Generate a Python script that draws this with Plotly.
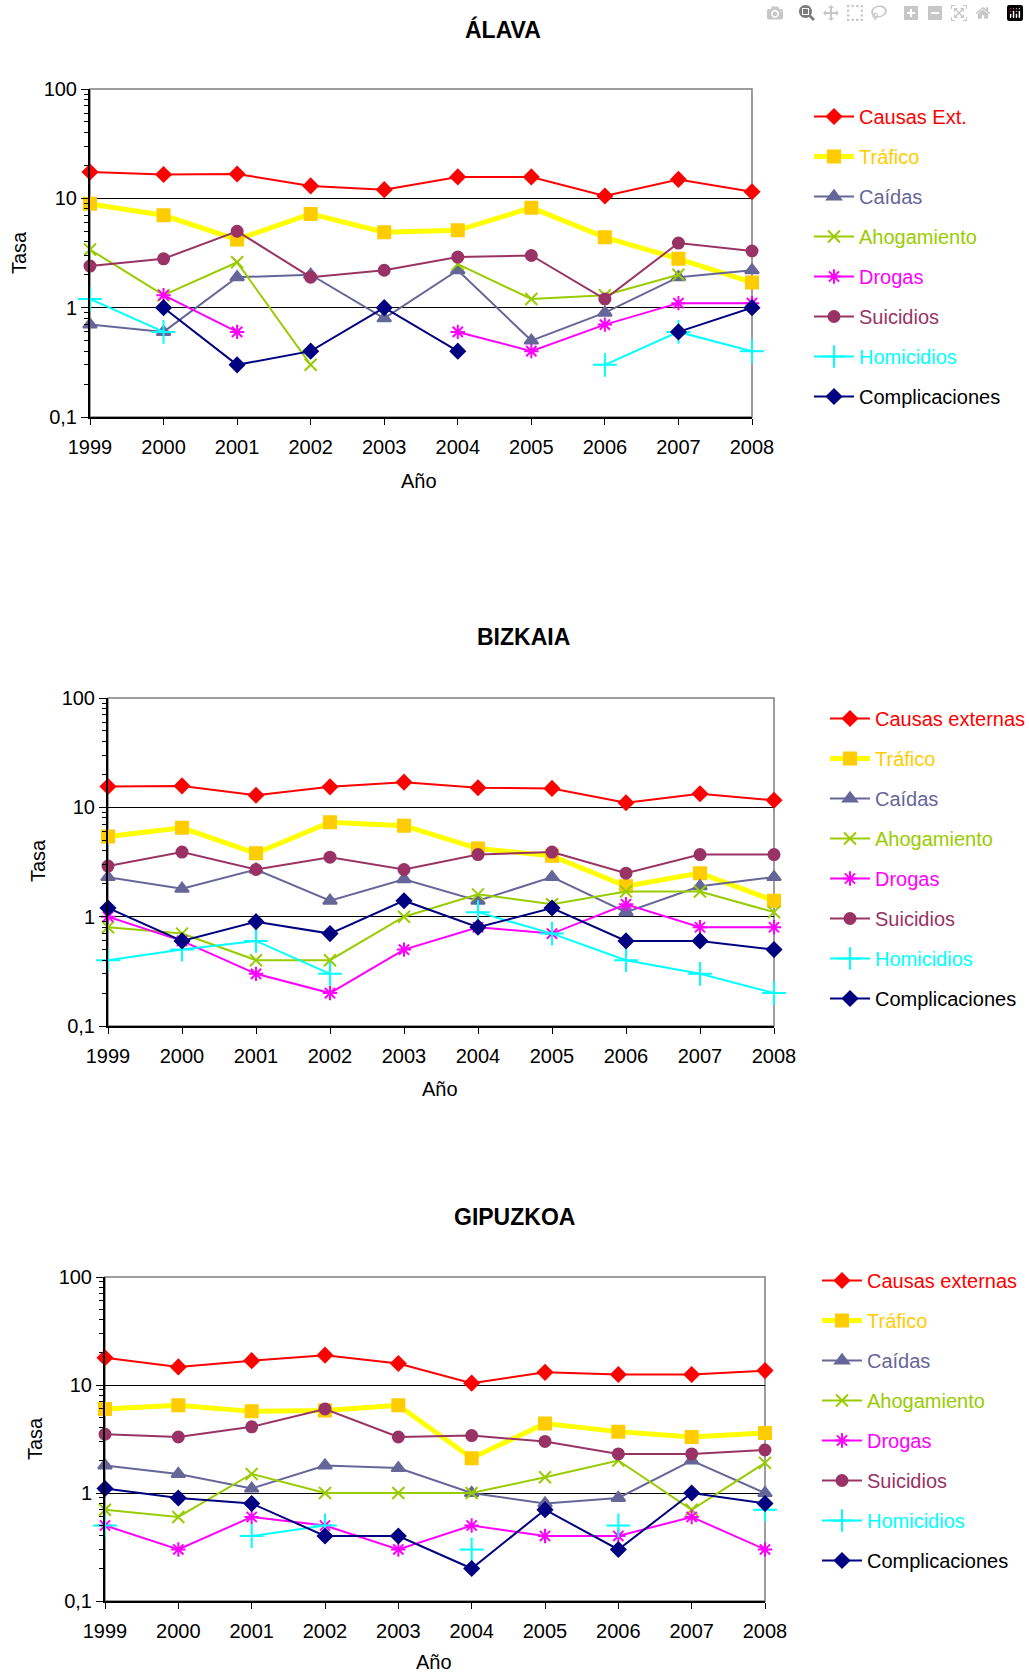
import plotly.graph_objects as go

W, H = 1029, 1673

YEARS = [1999, 2000, 2001, 2002, 2003, 2004, 2005, 2006, 2007, 2008]
Y_TICKS = [0.1, 1, 10, 100]
Y_TICKTEXT = ["0,1", "1", "10", "100"]

# ÁLAVA
ALAVA_CAUSAS = [17.4, 16.5, 16.7, 13.0, 12.0, 15.7, 15.7, 10.5, 14.9, 11.5]
ALAVA_TRAFICO = [8.9, 7.0, 4.2, 7.2, 4.9, 5.1, 8.2, 4.4, 2.8, 1.7]
ALAVA_CAIDAS = [0.7, 0.6, 1.9, 2.0, 0.8, 2.2, 0.5, 0.9, 1.9, 2.2]
ALAVA_AHOGAMIENTO = [3.4, 1.3, 2.6, 0.3, None, 2.5, 1.2, 1.3, 2.0, None]
ALAVA_DROGAS = [None, 1.3, 0.6, None, None, 0.6, 0.4, 0.7, 1.1, 1.1]
ALAVA_SUICIDIOS = [2.4, 2.8, 5.0, 1.9, 2.2, 2.9, 3.0, 1.2, 3.9, 3.3]
ALAVA_HOMICIDIOS = [1.2, 0.6, None, None, None, None, None, 0.3, 0.6, 0.4]
ALAVA_COMPLICACIONES = [None, 1.0, 0.3, 0.4, 1.0, 0.4, None, None, 0.6, 1.0]

# BIZKAIA
BIZKAIA_CAUSAS = [15.5, 15.7, 12.9, 15.4, 17.0, 15.1, 14.9, 11.0, 13.3, 11.6]
BIZKAIA_TRAFICO = [5.4, 6.5, 3.8, 7.3, 6.8, 4.2, 3.6, 1.9, 2.5, 1.4]
BIZKAIA_CAIDAS = [2.3, 1.8, 2.7, 1.4, 2.2, 1.4, 2.3, 1.1, 1.9, 2.3]
BIZKAIA_AHOGAMIENTO = [0.8, 0.7, 0.4, 0.4, 1.0, 1.6, 1.3, 1.7, 1.7, 1.1]
BIZKAIA_DROGAS = [1.0, 0.6, 0.3, 0.2, 0.5, 0.8, 0.7, 1.3, 0.8, 0.8]
BIZKAIA_SUICIDIOS = [2.9, 3.9, 2.7, 3.5, 2.7, 3.7, 3.9, 2.5, 3.7, 3.7]
BIZKAIA_HOMICIDIOS = [0.4, 0.5, 0.6, 0.3, None, 1.1, 0.7, 0.4, 0.3, 0.2]
BIZKAIA_COMPLICACIONES = [1.2, 0.6, 0.9, 0.7, 1.4, 0.8, 1.2, 0.6, 0.6, 0.5]

# GIPUZKOA
GIPUZKOA_CAUSAS = [17.9, 14.7, 16.8, 18.9, 15.8, 10.4, 13.1, 12.5, 12.5, 13.6]
GIPUZKOA_TRAFICO = [6.0, 6.5, 5.7, 5.8, 6.5, 2.1, 4.4, 3.7, 3.3, 3.6]
GIPUZKOA_CAIDAS = [1.8, 1.5, 1.1, 1.8, 1.7, 1.0, 0.8, 0.9, 2.0, 1.0]
GIPUZKOA_AHOGAMIENTO = [0.7, 0.6, 1.5, 1.0, 1.0, 1.0, 1.4, 2.0, 0.7, 1.9]
GIPUZKOA_DROGAS = [0.5, 0.3, 0.6, 0.5, 0.3, 0.5, 0.4, 0.4, 0.6, 0.3]
GIPUZKOA_SUICIDIOS = [3.5, 3.3, 4.1, 6.0, 3.3, 3.4, 3.0, 2.3, 2.3, 2.5]
GIPUZKOA_HOMICIDIOS = [0.5, None, 0.4, 0.5, None, 0.3, None, 0.5, None, 0.7]
GIPUZKOA_COMPLICACIONES = [1.1, 0.9, 0.8, 0.4, 0.4, 0.2, 0.7, 0.3, 1.0, 0.8]

FONT = "Liberation Sans, Arial, sans-serif"

# (line colour, line width, marker symbol, marker colour, marker size, text colour)
STYLES = [
    ("#FF0000", 2, "diamond", "#FF0000", 11, "#FF0000"),
    ("#FFFF00", 5, "square", "#FFCC00", 12, "#FFCC00"),
    ("#666699", 2, "triangle-up", "#666699", 12, "#666699"),
    ("#99CC00", 2, "x-thin-open", "#99CC00", 12, "#99CC00"),
    ("#FF00FF", 2, "asterisk-open", "#FF00FF", 12, "#FF00FF"),
    ("#993366", 2, "circle", "#993366", 11, "#993366"),
    ("#00FFFF", 2, "cross-thin-open", "#00FFFF", 17, "#00FFFF"),
    ("#000080", 2, "diamond", "#000080", 11, "#000000"),
]

PANELS = [
    dict(
        title="ÁLAVA",
        names=["Causas Ext.", "Tráfico", "Caídas", "Ahogamiento", "Drogas",
               "Suicidios", "Homicidios", "Complicaciones"],
        series=[ALAVA_CAUSAS, ALAVA_TRAFICO, ALAVA_CAIDAS, ALAVA_AHOGAMIENTO,
                ALAVA_DROGAS, ALAVA_SUICIDIOS, ALAVA_HOMICIDIOS, ALAVA_COMPLICACIONES],
        box=(90, 752, 89, 417), title_xy=(503, 29), tasa_xy=(19, 253),
        ano_xy=(419, 481), legend_xy=(809, 97),
    ),
    dict(
        title="BIZKAIA",
        names=["Causas externas", "Tráfico", "Caídas", "Ahogamiento", "Drogas",
               "Suicidios", "Homicidios", "Complicaciones"],
        series=[BIZKAIA_CAUSAS, BIZKAIA_TRAFICO, BIZKAIA_CAIDAS, BIZKAIA_AHOGAMIENTO,
                BIZKAIA_DROGAS, BIZKAIA_SUICIDIOS, BIZKAIA_HOMICIDIOS, BIZKAIA_COMPLICACIONES],
        box=(108, 774, 698, 1026), title_xy=(523, 637), tasa_xy=(38, 861),
        ano_xy=(440, 1089), legend_xy=(825, 699),
    ),
    dict(
        title="GIPUZKOA",
        names=["Causas externas", "Tráfico", "Caídas", "Ahogamiento", "Drogas",
               "Suicidios", "Homicidios", "Complicaciones"],
        series=[GIPUZKOA_CAUSAS, GIPUZKOA_TRAFICO, GIPUZKOA_CAIDAS, GIPUZKOA_AHOGAMIENTO,
                GIPUZKOA_DROGAS, GIPUZKOA_SUICIDIOS, GIPUZKOA_HOMICIDIOS, GIPUZKOA_COMPLICACIONES],
        box=(105, 765, 1277, 1601), title_xy=(514, 1217), tasa_xy=(35, 1439),
        ano_xy=(434, 1662), legend_xy=(817, 1261),
    ),
]

MINOR_TICKS = [m * 10 ** e for e in (-1, 0, 1) for m in range(2, 10)]


def px_x(x):
    return x / W


def px_y(y):
    return 1 - y / H


def label(text, xy, size=20, angle=0):
    return dict(
        text=text, x=px_x(xy[0]), y=px_y(xy[1]), xref="paper", yref="paper",
        xanchor="center", yanchor="middle", showarrow=False, textangle=angle,
        font=dict(family=FONT, size=size, color="black"),
    )


fig = go.Figure()
layout = dict(annotations=[], shapes=[])

for i, panel in enumerate(PANELS):
    n = "" if i == 0 else str(i + 1)
    legend_id = "legend" + n
    for name, values, style in zip(panel["names"], panel["series"], STYLES):
        lc, lw, sym, mc, ms, tc = style
        fig.add_trace(go.Scatter(
            x=YEARS, y=values,
            name=f"<span style='color:{tc}'>{name}</span>",
            mode="lines+markers",
            line=dict(color=lc, width=lw),
            marker=dict(symbol=sym, color=mc, size=ms, line=dict(color=mc, width=2)),
            cliponaxis=False,
            legend=legend_id,
            legendgroup=f"{i}-{name}",
            xaxis="x" + n, yaxis="y" + n,
            hovertemplate="%{x}: %{y}<extra>" + name + "</extra>",
        ))

    x0, x1, y0, y1 = panel["box"]
    layout["xaxis" + n] = dict(
        domain=[px_x(x0), px_x(x1)], anchor="y" + n,
        range=[1999, 2008], tickvals=YEARS, ticktext=[str(y) for y in YEARS],
        ticks="outside", ticklen=6, tickcolor="black", tickwidth=1,
        ticklabelstandoff=5,
        showline=True, linecolor="black", linewidth=2,
        showgrid=False, zeroline=False, automargin=False,
        tickfont=dict(family=FONT, size=20, color="black"),
    )
    layout["yaxis" + n] = dict(
        domain=[px_y(y1), px_y(y0)], anchor="x" + n,
        type="log", range=[-1, 2], tickvals=Y_TICKS, ticktext=Y_TICKTEXT,
        ticks="outside", ticklen=7, tickcolor="black", tickwidth=1,
        showline=True, linecolor="black", linewidth=2,
        showgrid=True, gridcolor="black", gridwidth=1, zeroline=False,
        automargin=False,
        minor=dict(tickvals=MINOR_TICKS, ticks="outside", ticklen=4,
                   tickcolor="black", showgrid=False),
        tickfont=dict(family=FONT, size=20, color="black"),
    )
    layout["shapes"].append(dict(
        type="rect", xref=f"x{n} domain", yref=f"y{n} domain",
        x0=0, x1=1, y0=0, y1=1, line=dict(color="#7f7f7f", width=1.5), layer="below",
    ))
    layout["annotations"].append(label(f"<b>{panel['title']}</b>", panel["title_xy"], size=23))
    layout["annotations"].append(label("Tasa", panel["tasa_xy"], angle=-90))
    layout["annotations"].append(label("Año", panel["ano_xy"]))
    lx, ly = panel["legend_xy"]
    layout[legend_id] = dict(
        x=px_x(lx), y=px_y(ly), xanchor="left", yanchor="top",
        traceorder="grouped", tracegroupgap=11, itemwidth=40,
        bgcolor="rgba(0,0,0,0)", borderwidth=0,
        font=dict(family=FONT, size=20, color="black"),
    )

fig.update_layout(
    **layout,
    width=W, height=H,
    margin=dict(l=0, r=0, t=0, b=0, autoexpand=False),
    paper_bgcolor="white", plot_bgcolor="white",
    showlegend=True,
)

fig.write_html("out.html", post_script="document.body.style.margin='0';")
